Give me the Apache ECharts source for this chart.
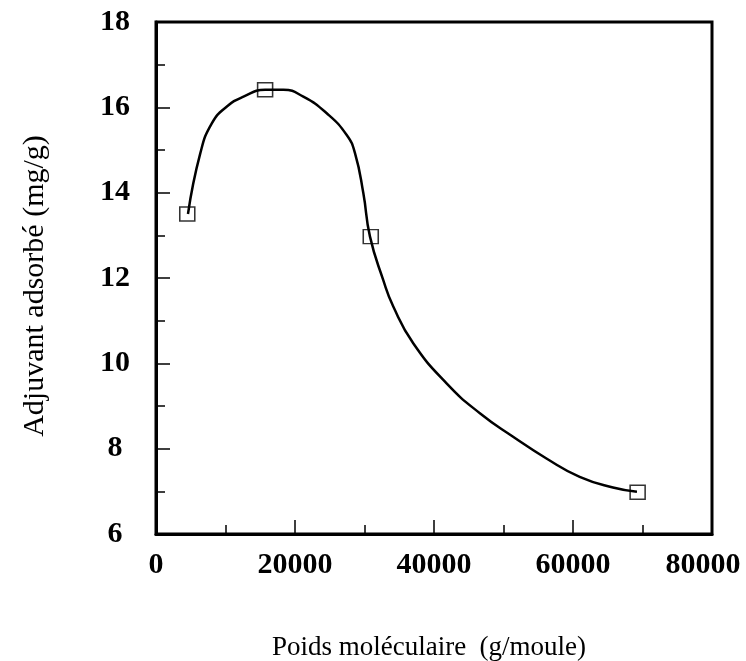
<!DOCTYPE html>
<html>
<head>
<meta charset="utf-8">
<script src="https://cdn.jsdelivr.net/npm/echarts@6/dist/echarts.min.js"></script>
<style>
  html, body { margin: 0; padding: 0; background: #fff; }
  #chart { width: 746px; height: 661px; }
</style>
</head>
<body>
<div id="chart"></div>
<script>
// mesures (carrés)
var poids = [4500, 15700, 30900, 69300];
var adsorbe = [13.5, 16.41, 12.97, 6.98];

// courbe lissée
var courbeX = [4600, 6370, 8050, 10200, 12590, 15700, 18330, 21200, 24570, 27440, 28640, 29830, 30790, 32700, 34140, 37010, 41810, 46600, 51380, 56180, 60960, 65750, 69200];
var courbeY = [13.5, 14.92, 15.63, 16.02, 16.25, 16.41, 16.41, 16.25, 15.86, 15.35, 14.92, 13.99, 12.97, 11.95, 11.33, 10.47, 9.53, 8.83, 8.28, 7.77, 7.34, 7.09, 6.99];

var pts = [];
for (var i = 0; i < poids.length; i++) pts.push([poids[i], adsorbe[i]]);
var courbe = [];
for (var i = 0; i < courbeX.length; i++) courbe.push([courbeX[i], courbeY[i]]);

var serif = '"Liberation Serif", "DejaVu Serif", serif';

var chart = echarts.init(document.getElementById('chart'));
chart.setOption({
  backgroundColor: '#fff',
  animation: false,
  grid: {
    left: 156, right: 34, top: 22, bottom: 127,
    outerBoundsMode: 'none', containLabel: false,
    show: true, borderColor: '#000', borderWidth: 3
  },
  xAxis: {
    type: 'value', min: 0, max: 80000, interval: 20000,
    name: 'Poids moléculaire  (g/moule)',
    nameLocation: 'middle', nameGap: 100,
    nameTextStyle: { fontFamily: serif, fontSize: 27, color: '#000', padding: [0, 10, 0, 0] },
    axisLine: { lineStyle: { color: '#000', width: 3 } },
    axisTick: { inside: true, length: 14, lineStyle: { color: '#000', width: 1.5 } },
    minorTick: { show: true, splitNumber: 2, length: 9, lineStyle: { color: '#000', width: 1.5 } },
    axisLabel: {
      fontFamily: serif, fontSize: 30, fontWeight: 'bold', color: '#000', margin: 16,
      hideOverlap: false,
      // le dernier libellé est un peu décalé vers la gauche pour rester dans l'image
      formatter: function (v) { return v === 80000 ? '{fin|' + v + '}' : String(v); },
      rich: {
        fin: { fontFamily: serif, fontSize: 30, fontWeight: 'bold', color: '#000', padding: [0, 18, 0, 0] }
      }
    },
    splitLine: { show: false }
  },
  yAxis: {
    type: 'value', min: 6, max: 18, interval: 2,
    name: 'Adjuvant adsorbé (mg/g)',
    nameLocation: 'middle', nameGap: 106, nameRotate: 90,
    nameTextStyle: { fontFamily: serif, fontSize: 30, color: '#000', padding: [0, 16, 0, 0] },
    axisLine: { lineStyle: { color: '#000', width: 3 } },
    axisTick: { inside: true, length: 14, lineStyle: { color: '#000', width: 1.5 } },
    minorTick: { show: true, splitNumber: 2, length: 9, lineStyle: { color: '#000', width: 1.5 } },
    axisLabel: {
      fontFamily: serif, fontSize: 30, fontWeight: 'bold', color: '#000', margin: 41, align: 'center',
      padding: [8, 0, 0, 0]
    },
    splitLine: { show: false }
  },
  series: [
    {
      type: 'line', data: courbe, smooth: 0.5, showSymbol: false,
      lineStyle: { color: '#000', width: 2.5 }, z: 2
    },
    {
      type: 'scatter', data: pts, symbol: 'rect', symbolSize: [15, 14],
      itemStyle: { color: 'rgba(255,255,255,0)', borderColor: '#000', borderWidth: 1.5 }, z: 3
    }
  ]
});
</script>
</body>
</html>
